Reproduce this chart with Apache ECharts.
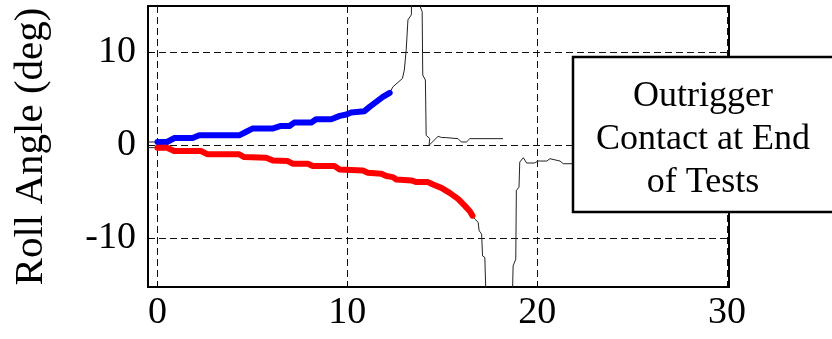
<!DOCTYPE html>
<html>
<head>
<meta charset="utf-8">
<script src="https://cdn.jsdelivr.net/npm/echarts@6/dist/echarts.min.js"></script>
<style>html,body{margin:0;padding:0;background:#fff;}#c{width:832px;height:339px;}</style>
</head>
<body>
<div id="c"></div>
<script>
// Tick labels
var xTicks = [0, 10, 20, 30];
var yTicks = [-10, 0, 10];

// Highlighted (thick) portions
var blueX = [0, 0.5, 0.9, 1.85, 2.2, 4.3, 4.65, 5.0, 6.05, 6.5, 6.95, 7.2, 8.1, 8.35, 9.15, 9.6, 9.95, 10.2, 10.9, 11.17, 11.52, 11.87, 12.23];
var blueY = [0.36, 0.36, 0.79, 0.79, 1.08, 1.08, 1.44, 1.8, 1.8, 2.09, 2.09, 2.45, 2.45, 2.81, 2.81, 3.17, 3.32, 3.53, 3.68, 4.14, 4.68, 5.22, 5.65];

var redX = [0, 0.5, 0.88, 2.29, 2.64, 4.31, 4.57, 5.72, 6.07, 6.86, 7.12, 7.92, 8.18, 9.32, 9.59, 10.82, 11.08, 11.79, 12.05, 12.4, 12.58, 13.37, 13.64, 14.25, 14.51, 14.95, 15.39, 15.83, 16.18, 16.45, 16.59];
var redY = [-0.25, -0.25, -0.61, -0.61, -0.97, -0.97, -1.26, -1.33, -1.62, -1.69, -1.98, -1.98, -2.23, -2.23, -2.59, -2.7, -2.95, -3.06, -3.31, -3.42, -3.68, -3.78, -3.96, -3.96, -4.22, -4.58, -5.12, -5.77, -6.49, -7.1, -7.57];

// Thin full traces: lead-in before highlight and continuation after it
var upperLeadX = [-0.5];
var upperLeadY = [0.36];
var upperTailX = [12.4, 12.9, 13.0, 13.1, 13.19, 13.37, 13.4, 13.78, 13.82, 13.94, 13.97, 14.11, 14.15, 14.34, 14.3, 14.78, 14.95, 15.2, 15.83, 16.0, 16.27, 16.45, 18.2];
var upperTailY = [6.3, 7.2, 8.1, 10.3, 13.5, 14.05, 18, 18, 15, 14.4, 7.57, 7.03, 1.08, 0.72, 0.0, 0.97, 0.85, 0.83, 0.72, 0.36, 0.36, 0.72, 0.72];

var lowerLeadX = [-0.5];
var lowerLeadY = [-0.25];
var lowerTailX = [16.71, 16.89, 16.94, 17.07, 17.12, 17.24, 17.29, 17.35, 18.66, 18.7, 18.73, 18.87, 18.9, 19.04, 19.08, 19.27, 19.44, 19.85, 20.05, 20.5, 20.67, 20.76, 21.2, 21.37, 22.5, 24.0];
var lowerTailY = [-7.93, -8.29, -9.19, -9.55, -11.9, -12.07, -15.6, -18, -18, -15.6, -12.97, -12.25, -4.86, -4.5, -1.8, -1.33, -1.9, -1.9, -1.69, -1.69, -1.44, -1.62, -1.69, -1.98, -1.98, -2.0];

var boxLines = ['Outrigger', 'Contact at End', 'of Tests'];
var yTitle = 'Roll Angle (deg)';

function pairs(xs, ys) { return xs.map(function (x, i) { return [x, ys[i]]; }); }

var upperTrace = pairs(upperLeadX, upperLeadY).concat(pairs(blueX, blueY), pairs(upperTailX, upperTailY));
var lowerTrace = pairs(lowerLeadX, lowerLeadY).concat(pairs(redX, redY), pairs(lowerTailX, lowerTailY));

var FONT = '"Liberation Serif", "Times New Roman", serif';
var chart = echarts.init(document.getElementById('c'), null, { renderer: 'canvas' });

var gridLine = { show: true, lineStyle: { color: '#111', width: 1, type: [7, 4] } };

chart.setOption({
  animation: false,
  backgroundColor: '#fff',
  grid: { left: 148, top: 6, right: 103, bottom: 52, show: true, borderColor: '#000', borderWidth: 2, backgroundColor: 'transparent' },
  xAxis: {
    type: 'value', min: -0.5, max: 30.1,
    axisLine: { show: true, onZero: false, lineStyle: { color: '#000', width: 2 } },
    axisTick: { show: true, inside: true, length: 5, customValues: xTicks, lineStyle: { color: '#000' } },
    axisLabel: { customValues: xTicks, fontFamily: FONT, fontSize: 38, color: '#000', margin: 7 },
    splitLine: gridLine
  },
  yAxis: {
    type: 'value', min: -15.25, max: 15,
    name: yTitle, nameLocation: 'middle', nameGap: 96, nameRotate: 90,
    nameTextStyle: { fontFamily: FONT, fontSize: 41, color: '#000' },
    axisLine: { show: true, onZero: false, lineStyle: { color: '#000', width: 2 } },
    axisTick: { show: true, inside: true, length: 5, customValues: yTicks, lineStyle: { color: '#000' } },
    axisLabel: { customValues: yTicks, fontFamily: FONT, fontSize: 38, color: '#000', margin: 12 },
    splitLine: gridLine
  },
  series: [
    { type: 'line', data: upperTrace, showSymbol: false, clip: true, lineStyle: { color: '#222', width: 1 }, z: 2 },
    { type: 'line', data: lowerTrace, showSymbol: false, clip: true, lineStyle: { color: '#222', width: 1 }, z: 2 },
    { type: 'line', data: pairs(blueX, blueY), showSymbol: false, lineStyle: { color: '#0000ff', width: 6, cap: 'round', join: 'round' }, z: 3 },
    { type: 'line', data: pairs(redX, redY), showSymbol: false, lineStyle: { color: '#ff0000', width: 6, cap: 'round', join: 'round' }, z: 3 }
  ],
  graphic: [
    { type: 'rect', z: 100, shape: { x: 573, y: 57, width: 280, height: 155 }, style: { fill: '#fff', stroke: '#000', lineWidth: 2.5 } },
    { type: 'text', z: 101, x: 703, y: 97, style: { text: boxLines[0], font: '36px ' + FONT, fill: '#000', textAlign: 'center', textVerticalAlign: 'middle' } },
    { type: 'text', z: 101, x: 703, y: 140, style: { text: boxLines[1], font: '36px ' + FONT, fill: '#000', textAlign: 'center', textVerticalAlign: 'middle' } },
    { type: 'text', z: 101, x: 703, y: 183, style: { text: boxLines[2], font: '36px ' + FONT, fill: '#000', textAlign: 'center', textVerticalAlign: 'middle' } }
  ]
});
</script>
</body>
</html>
